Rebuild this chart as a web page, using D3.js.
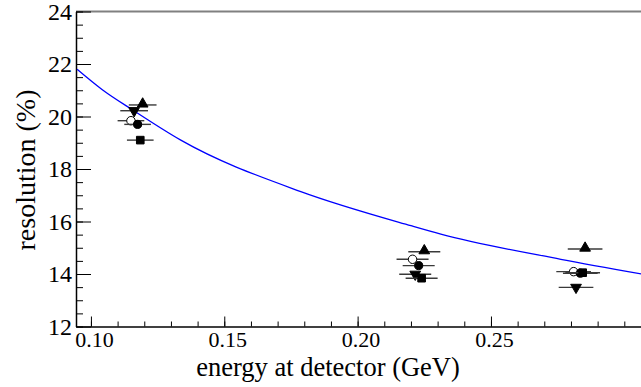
<!DOCTYPE html>
<html>
<head>
<meta charset="utf-8">
<script src="https://cdn.jsdelivr.net/npm/d3@7"></script>
<style>
  body { margin: 0; background: #fff; }
  svg { display: block; }
</style>
</head>
<body>
<script>
// fitted curve
var fitEnergy = [0.0948, 0.1044, 0.1161, 0.1337, 0.1787, 0.2200, 0.2312, 0.2762, 0.3066];
var fitRes = [21.80, 21.01, 20.22, 19.10, 17.14, 15.84, 15.52, 14.56, 14.00];

// measured points, one set per marker
var triUpE = [0.1194, 0.2250, 0.2853];
var triUpR = [20.44, 14.85, 14.95];
var triUpErr = [0.0052, 0.0060, 0.0065];

var triDownE = [0.1162, 0.2216, 0.2819];
var triDownR = [20.22, 13.99, 13.49];
var triDownErr = [0.0052, 0.0060, 0.0065];

var openCircE = [0.1150, 0.2206, 0.2810];
var openCircR = [19.84, 14.56, 14.09];
var openCircErr = [0.0050, 0.0060, 0.0065];

var fullCircE = [0.1175, 0.2229, 0.2835];
var fullCircR = [19.70, 14.32, 14.03];
var fullCircErr = [0.0050, 0.0060, 0.0065];

var squareE = [0.1185, 0.2240, 0.2844];
var squareR = [19.10, 13.84, 14.05];
var squareErr = [0.0050, 0.0060, 0.0065];

var xMajor = [0.10, 0.15, 0.20, 0.25];
var yMajor = [12, 14, 16, 18, 20, 22, 24];

var width = 641, height = 387;
var serif = "'Liberation Serif', 'Times New Roman', 'DejaVu Serif', serif";

var svg = d3.select("body").append("svg")
  .attr("width", width)
  .attr("height", height);

var x = d3.scaleLinear().domain([0.0944, 0.3075]).range([76, 644.3]);
var y = d3.scaleLinear().domain([12, 24]).range([326.5, 11.5]);

svg.append("defs").append("clipPath").attr("id", "plot")
  .append("rect").attr("x", 76).attr("y", 11.5).attr("width", 570).attr("height", 315);

// top frame line
svg.append("line")
  .attr("x1", 76).attr("x2", width)
  .attr("y1", 11.5).attr("y2", 11.5)
  .attr("stroke", "#808080").attr("stroke-width", 2);

// y axis: minor then major ticks (inward)
svg.append("g")
  .attr("transform", "translate(76,0)")
  .call(d3.axisLeft(y).tickValues(d3.range(12, 24.01, 0.5)).tickSize(-7).tickFormat(""))
  .call(function (g) { g.select(".domain").remove(); });

var yAx = svg.append("g")
  .attr("transform", "translate(76,0)")
  .call(d3.axisLeft(y).tickValues(yMajor).tickSize(-15).tickPadding(4).tickSizeOuter(0)
    .tickFormat(d3.format("d")));
yAx.selectAll("text").style("font-size", "24px").style("font-family", serif);
yAx.select(".domain").attr("stroke-width", 1.5);

// x axis
svg.append("g")
  .attr("transform", "translate(0,326.5)")
  .call(d3.axisBottom(x).tickValues(d3.range(0.10, 0.305, 0.01)).tickSize(-5).tickFormat(""))
  .call(function (g) { g.select(".domain").remove(); });

var xAx = svg.append("g")
  .attr("transform", "translate(0,326.5)")
  .call(d3.axisBottom(x).tickValues(xMajor).tickSize(-10).tickPadding(5).tickSizeOuter(0)
    .tickFormat(d3.format(".2f")));
xAx.selectAll("text").style("font-size", "22px").style("font-family", serif)
  .attr("dx", 3);
xAx.select(".domain").attr("stroke-width", 1.5);

// axis titles
svg.append("text")
  .attr("x", 328).attr("y", 376)
  .attr("text-anchor", "middle")
  .style("font-size", "26.5px").style("font-family", serif)
  .text("energy at detector (GeV)");

svg.append("text")
  .attr("transform", "translate(35,170) rotate(-90)")
  .attr("text-anchor", "middle")
  .style("font-size", "28px").style("font-family", serif)
  .text("resolution (%)");

// fit curve
var fitData = fitEnergy.map(function (e, i) { return { e: e, r: fitRes[i] }; });
svg.append("path")
  .datum(fitData)
  .attr("clip-path", "url(#plot)")
  .attr("fill", "none")
  .attr("stroke", "#0000ff")
  .attr("stroke-width", 1.3)
  .attr("d", d3.line()
    .x(function (d) { return x(d.e); })
    .y(function (d) { return y(d.r); })
    .curve(d3.curveMonotoneX));

// points with horizontal error bars
var series = [
  { e: openCircE, r: openCircR, err: openCircErr, kind: "open" },
  { e: triUpE, r: triUpR, err: triUpErr, kind: "triUp" },
  { e: triDownE, r: triDownR, err: triDownErr, kind: "triDown" },
  { e: fullCircE, r: fullCircR, err: fullCircErr, kind: "full" },
  { e: squareE, r: squareR, err: squareErr, kind: "square" }
];

var symbols = {
  triUp: d3.symbol().type(d3.symbolTriangle).size(50),
  triDown: d3.symbol().type(d3.symbolTriangle).size(50),
  open: d3.symbol().type(d3.symbolCircle).size(56),
  full: d3.symbol().type(d3.symbolCircle).size(52),
  square: d3.symbol().type(d3.symbolSquare).size(58)
};

series.forEach(function (s) {
  var pts = s.e.map(function (e, i) { return { e: e, r: s.r[i], err: s.err[i] }; });
  var g = svg.append("g").attr("class", "series-" + s.kind);

  g.selectAll("line")
    .data(pts)
    .enter()
    .append("line")
    .attr("x1", function (d) { return x(d.e - d.err); })
    .attr("x2", function (d) { return x(d.e + d.err); })
    .attr("y1", function (d) { return y(d.r); })
    .attr("y2", function (d) { return y(d.r); })
    .attr("stroke", "#3a3a3a")
    .attr("stroke-width", 1.4);

  g.selectAll("path")
    .data(pts)
    .enter()
    .append("path")
    .attr("d", symbols[s.kind])
    .attr("transform", function (d) {
      var t = "translate(" + x(d.e) + "," + y(d.r) + ")";
      if (s.kind === "triUp") t += " translate(0,-1)";
      if (s.kind === "triDown") t += " rotate(180)";
      return t;
    })
    .attr("fill", s.kind === "open" ? "#fff" : "#000")
    .attr("stroke", "#000")
    .attr("stroke-width", 1);
});
</script>
</body>
</html>
